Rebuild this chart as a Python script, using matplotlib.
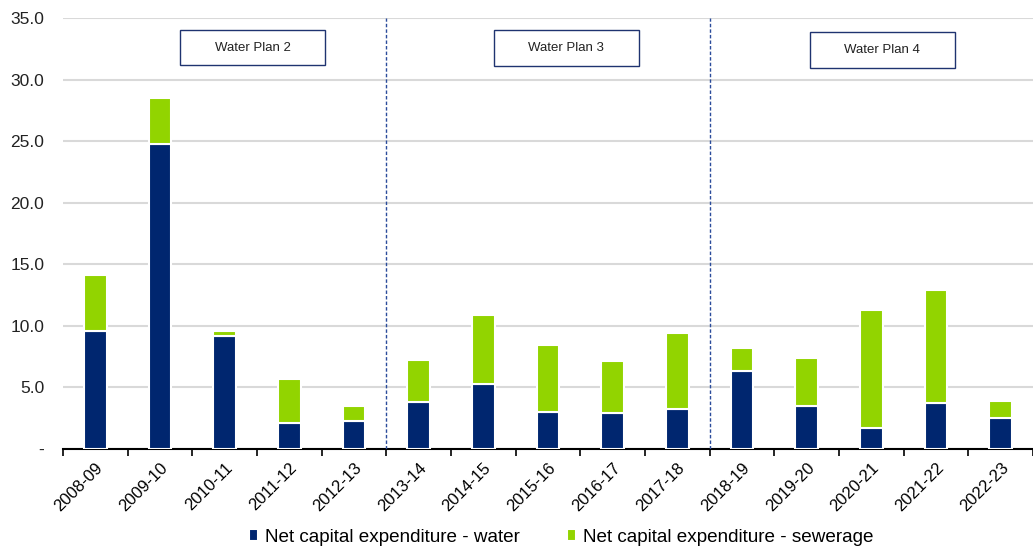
import matplotlib
matplotlib.use("Agg")
import matplotlib.pyplot as plt
from matplotlib.patches import Rectangle
import numpy as np

plt.rcParams['font.family'] = ['Liberation Sans', 'DejaVu Sans']

years = ["2008-09", "2009-10", "2010-11", "2011-12", "2012-13", "2013-14", "2014-15",
         "2015-16", "2016-17", "2017-18", "2018-19", "2019-20", "2020-21", "2021-22", "2022-23"]
water = [9.6, 24.8, 9.2, 2.1, 2.3, 3.8, 5.3, 3.0, 2.9, 3.2, 6.3, 3.5, 1.7, 3.7, 2.5]
sewerage = [4.5, 3.7, 0.4, 3.6, 1.2, 3.4, 5.6, 5.4, 4.2, 6.2, 1.9, 3.9, 9.6, 9.2, 1.4]
yticks = [0, 5, 10, 15, 20, 25, 30, 35]
ytick_labels = ["-", "5.0", "10.0", "15.0", "20.0", "25.0", "30.0", "35.0"]
plan_names = ["Water Plan 2", "Water Plan 3", "Water Plan 4"]
plan_breaks = [4.5, 9.5]

navy = "#00266F"
green = "#92D400"

fig = plt.figure(figsize=(10.33, 5.48), dpi=100)
ax = fig.add_axes([0.061, 0.181, 0.939, 0.786])

x = np.arange(len(years))
w = 0.35
ax.bar(x, water, width=w, color=navy, edgecolor="white", linewidth=1.5, zorder=3,
       label="Net capital expenditure - water")
ax.bar(x, sewerage, width=w, bottom=water, color=green, edgecolor="white", linewidth=1.5,
       zorder=3, label="Net capital expenditure - sewerage")

ax.set_xlim(-0.5, len(years) - 0.5)
ax.set_ylim(0, 35)
ax.set_yticks(yticks)
ax.set_yticklabels(ytick_labels, fontsize=12.5, color="#222222")
ax.tick_params(axis="y", length=0, pad=13.5)
ax.yaxis.grid(True, color="#D9D9D9", linewidth=1.5, zorder=0)
ax.set_axisbelow(True)

ax.set_xticks(x)
ax.set_xticklabels(years, rotation=45, ha="right", rotation_mode="anchor", fontsize=12)
ax.tick_params(axis="x", which="major", length=0, pad=8)
ax.set_xticks(np.arange(-0.5, len(years), 1.0), minor=True)
ax.tick_params(axis="x", which="minor", length=5, width=1.2, direction="out", color="black")

for s in ["left", "right", "top"]:
    ax.spines[s].set_visible(False)
ax.spines["bottom"].set_linewidth(1.5)
ax.spines["bottom"].set_color("black")

for b in plan_breaks:
    ax.axvline(b, color="#2B4C9B", linewidth=1.0, linestyle=(0, (2.5, 1.5)), zorder=4)

# Plan label boxes (layout positions, data coordinates)
box_x = [1.31, 6.16, 11.05]
box_w = 2.24
box_y = [31.15, 31.1, 30.95]
box_h = 2.9
for name, bx, by in zip(plan_names, box_x, box_y):
    ax.add_patch(Rectangle((bx, by), box_w, box_h, facecolor="white", edgecolor="#1F3370",
                           linewidth=1.0, zorder=5))
    ax.text(bx + box_w / 2, by + box_h / 2, name, ha="center", va="center", fontsize=9.5,
            color="#222222", zorder=6)

leg = fig.legend(loc="lower center", bbox_to_anchor=(0.543, -0.027), ncol=2, frameon=False,
                 fontsize=13.6, handlelength=0.5, handleheight=0.6, columnspacing=2.5,
                 handletextpad=0.35)

fig.savefig("out.png", dpi=100)
